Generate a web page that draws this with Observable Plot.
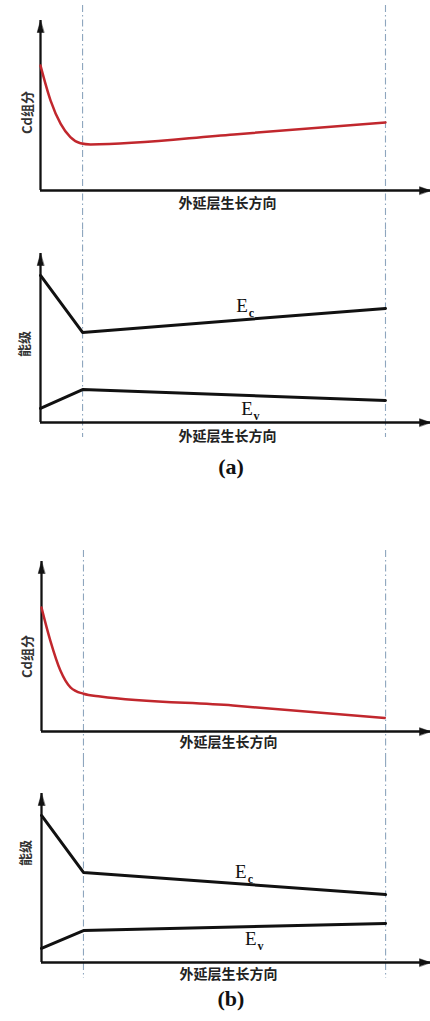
<!DOCTYPE html>
<html><head><meta charset="utf-8">
<script src="https://cdn.jsdelivr.net/npm/d3@7"></script>
<script src="https://cdn.jsdelivr.net/npm/@observablehq/plot@0.6"></script>
<style>
html,body{margin:0;padding:0;background:#fff;}
#root{position:relative;width:430px;height:1021px;overflow:hidden;background:#fff;}
.panel{position:absolute;left:0;}
.cap{position:absolute;left:0;width:462px;text-align:center;font-family:"Liberation Serif","DejaVu Serif",serif;font-weight:bold;font-size:22px;color:#111;}
</style></head><body><div id="root"></div>
<script>
// ---- text ----
const xLabel = "外延层生长方向";
const yLabelCd = "Cd组分";
const yLabelE = "能级";
const captions = ["(a)", "(b)"];

// ---- growth-direction positions (arbitrary units: 0 = substrate side, 1 = interface, 8.2 = surface) ----
const interfaces = [1, 8.2];
const xMax = 9.27, yMax = 10;

// ---- (a) Cd composition ----
const cdA_x = [0, 0.24, 0.48, 0.71, 0.95, 1.19, 4.6, 8.2];
const cdA_y = [7.35, 5.29, 3.92, 3.14, 2.78, 2.71, 3.3, 4.0];
// ---- (a) band edges ----
const bandA_x = [0, 1, 8.2];
const ecA_y = [8.7, 5.33, 6.75];
const evA_y = [0.83, 1.95, 1.3];
// ---- (b) Cd composition ----
const cdB_x = [0, 0.21, 0.45, 0.69, 1.0, 1.4, 4.56, 8.18];
const cdB_y = [7.29, 5.35, 3.59, 2.6, 2.22, 2.06, 1.53, 0.8];
// ---- (b) band edges ----
const bandB_x = [0, 1, 8.2];
const ecB_y = [8.7, 5.33, 4.02];
const evB_y = [0.83, 1.89, 2.31];
// ---- band labels ----
const bandLabelsA = [{t: "E", s: "c", x: 4.79, y: 6.92}, {t: "E", s: "v", x: 4.91, y: 0.8}];
const bandLabelsB = [{t: "E", s: "c", x: 4.75, y: 5.36}, {t: "E", s: "v", x: 4.99, y: 1.39}];

const zip = (xs, ys) => xs.map((x, i) => ({x, y: ys[i]}));

const triangle = {
  draw(context, l, r) {
    context.moveTo(0, -l);
    context.lineTo(-r, 0);
    context.lineTo(r, 0);
    context.closePath();
  }
};

const cjk = '"Noto Sans CJK SC", "Noto Sans", sans-serif';
const serif = '"Liberation Serif", "DejaVu Serif", serif';

function panel(cfg) {
  const marks = [
    Plot.ruleX(interfaces, {stroke: "#8ea6be", strokeWidth: 1.1, strokeDasharray: "7,3,1.5,3",
      insetTop: -cfg.dashTop, insetBottom: -cfg.dashBottom}),
    Plot.ruleX([0], {stroke: "#111", strokeWidth: 2.3}),
    Plot.ruleY([0], {stroke: "#111", strokeWidth: 2.3}),
    Plot.vector([{x: 0, y: yMax}], {x: "x", y: "y", length: 12, r: 3.3, rotate: 0, anchor: "end",
      shape: triangle, fill: "#111", stroke: "#111", strokeWidth: 0.5}),
    Plot.vector([{x: xMax, y: 0}], {x: "x", y: "y", length: 11, r: 3.8, rotate: 90, anchor: "end",
      shape: triangle, fill: "#111", stroke: "#111", strokeWidth: 0.5}),
  ];
  for (const ln of cfg.lines) {
    marks.push(Plot.line(ln.data, {x: "x", y: "y", stroke: ln.color, strokeWidth: ln.width, curve: ln.curve}));
  }
  if (cfg.labels) {
    marks.push(Plot.text(cfg.labels, {x: "x", y: "y", text: "t", fontFamily: serif, fontSize: 19, fill: "#111"}));
    marks.push(Plot.text(cfg.labels, {x: "x", y: "y", text: "s", dx: 9.5, dy: 7.5, fontFamily: serif, fontSize: 12, fontWeight: "bold", fill: "#111"}));
  }
  marks.push(Plot.text([xLabel], {frameAnchor: "bottom", dx: cfg.xlDx, dy: cfg.xlDy, fontFamily: cjk, fontSize: 14, fontWeight: "bold", fill: "#222"}));
  marks.push(Plot.text([cfg.yLabel], {frameAnchor: "left", textAnchor: "middle", rotate: -90, dx: cfg.ylDx, dy: cfg.ylDy, fontFamily: cjk, fontSize: 13, fontWeight: "bold", fill: "#333"}));

  const svg = Plot.plot({
    width: 430, height: cfg.height,
    marginLeft: cfg.ml, marginRight: 0, marginTop: cfg.mt, marginBottom: cfg.mb,
    x: {domain: [0, xMax], axis: null},
    y: {domain: [0, yMax], axis: null},
    style: {background: "transparent", overflow: "visible"},
    marks
  });
  const wrap = document.createElement("div");
  wrap.className = "panel";
  wrap.style.top = cfg.top + "px";
  wrap.appendChild(svg);
  document.getElementById("root").appendChild(wrap);
}

const red = "#c1272d";
panel({top: 0, height: 230, ml: 40, mt: 20, mb: 40, dashTop: 15, dashBottom: 40,
  xlDx: -8, xlDy: 17.5, yLabel: yLabelCd, ylDx: -13, ylDy: 7,
  lines: [{data: zip(cdA_x, cdA_y), color: red, width: 2.5, curve: "monotone-x"}]});
panel({top: 230, height: 225, ml: 40, mt: 23, mb: 33, dashTop: 23, dashBottom: 15,
  xlDx: -8, xlDy: 18, yLabel: yLabelE, ylDx: -16, ylDy: 6,
  lines: [{data: zip(bandA_x, ecA_y), color: "#111", width: 3, curve: "linear"},
          {data: zip(bandA_x, evA_y), color: "#111", width: 3, curve: "linear"}],
  labels: bandLabelsA});
panel({top: 540, height: 220, ml: 41, mt: 21, mb: 29, dashTop: 11, dashBottom: 29,
  xlDx: -7.5, xlDy: 15, yLabel: yLabelCd, ylDx: -14, ylDy: 10,
  lines: [{data: zip(cdB_x, cdB_y), color: red, width: 2.5, curve: "monotone-x"}]});
panel({top: 760, height: 226, ml: 41, mt: 33, mb: 24, dashTop: 33, dashBottom: 16,
  xlDx: -7.5, xlDy: 16, yLabel: yLabelE, ylDx: -16, ylDy: -25,
  lines: [{data: zip(bandB_x, ecB_y), color: "#111", width: 3, curve: "linear"},
          {data: zip(bandB_x, evB_y), color: "#111", width: 3, curve: "linear"}],
  labels: bandLabelsB});

const capTops = [453, 985];
captions.forEach((c, i) => {
  const d = document.createElement("div");
  d.className = "cap";
  d.style.top = capTops[i] + "px";
  d.style.height = "28px";
  d.style.lineHeight = "28px";
  d.textContent = c;
  document.getElementById("root").appendChild(d);
});
</script>
</body></html>
